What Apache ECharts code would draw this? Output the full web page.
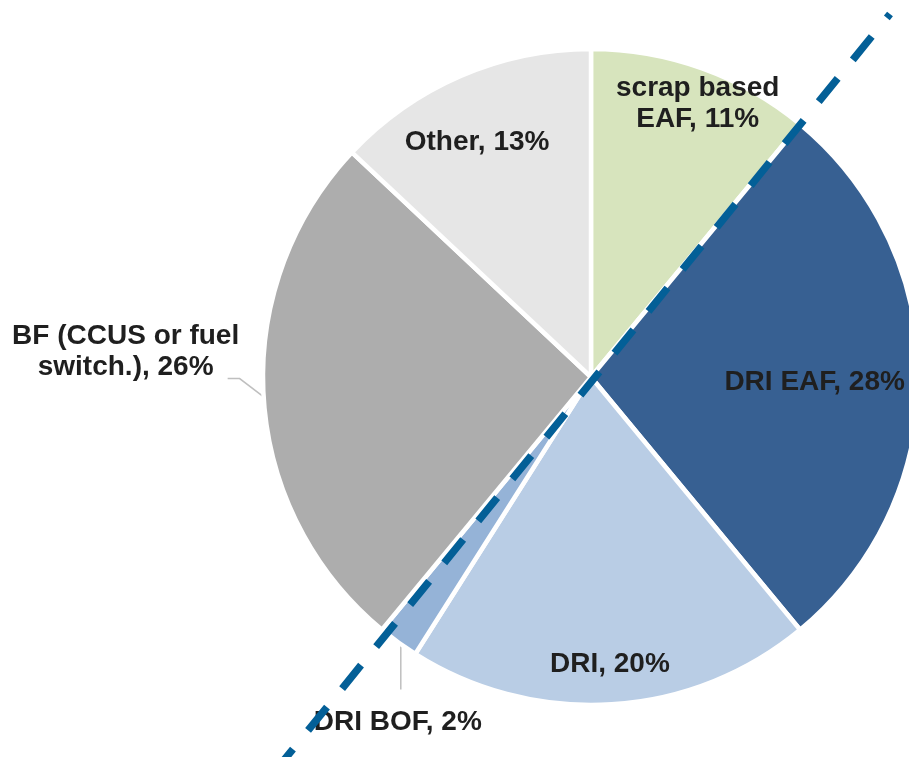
<!DOCTYPE html>
<html><head><meta charset="utf-8">
<script src="https://cdn.jsdelivr.net/npm/echarts/dist/echarts.min.js"></script>
<style>html,body{margin:0;padding:0;background:#fff}#c{width:909px;height:757px}</style>
</head><body><div id="c"></div>
<script>
// ---- data ----
const categories = ['scrap based\nEAF', 'DRI EAF', 'DRI', 'DRI BOF', 'BF (CCUS or fuel\nswitch.)', 'Other'];
const shares = [11, 28, 20, 2, 26, 13];

// ---- styles ----
const colors = ['#d7e4bd', '#376092', '#b9cde5', '#95b3d7', '#adadad', '#e6e6e6'];
const labelRadius = [0.9, 0.69, 0.87, null, null, 0.8];
const labelNudge = [[7, 4], [-2, 5], [1, 3], [0, 0], [0, 0], [-10, 5]];
const outsideLeader = {
  3: { line: [[2, 3], [2, 25], [2, 48]], label: [-1, 81] },
  4: { line: [[0, 0], [-25, -19], [-37, -19]], label: [-139, -46] }
};
const CX = 591, CY = 377, R = 328, EDGE = 327;

const total = shares.reduce((a, b) => a + b, 0);
function midAngle(i) {
  let s = 0;
  for (let j = 0; j < i; j++) s += shares[j];
  return (s + shares[i] / 2) / total * Math.PI * 2;
}

const chart = echarts.init(document.getElementById('c'), null, { renderer: 'canvas' });
chart.setOption({
  animation: false,
  backgroundColor: '#ffffff',
  series: [{
    type: 'pie',
    center: [CX, CY],
    radius: R,
    startAngle: 90,
    clockwise: true,
    avoidLabelOverlap: false,
    itemStyle: { borderColor: '#ffffff', borderWidth: 4.5 },
    label: {
      show: true,
      position: 'inside',
      fontFamily: 'Liberation Sans, Arial, sans-serif',
      fontSize: 28,
      fontWeight: 'bold',
      lineHeight: 31,
      color: '#1f1f1f',
      textBorderWidth: 0,
      formatter: p => p.name + ', ' + p.value + '%'
    },
    labelLine: { show: false },
    labelLayout: function (p) {
      const i = p.dataIndex;
      const a = midAngle(i);
      const dx = Math.sin(a), dy = -Math.cos(a);
      if (outsideLeader[i]) {
        const ex = CX + EDGE * dx, ey = CY + EDGE * dy;
        const o = outsideLeader[i];
        return {
          x: ex + o.label[0], y: ey + o.label[1],
          align: 'center', verticalAlign: 'middle',
          labelLinePoints: o.line.map(q => [ex + q[0], ey + q[1]])
        };
      }
      const k = labelRadius[i];
      return {
        x: CX + k * EDGE * dx + labelNudge[i][0],
        y: CY + k * EDGE * dy + labelNudge[i][1],
        align: 'center', verticalAlign: 'middle'
      };
    },
    data: categories.map((name, i) => {
      const item = { name: name, value: shares[i], itemStyle: { color: colors[i] } };
      if (outsideLeader[i]) {
        item.label = { position: 'outside' };
        item.labelLine = { show: true, lineStyle: { color: '#bfbfbf', width: 1.5 } };
      }
      return item;
    })
  }],
  graphic: [{
    type: 'line',
    z: 100,
    silent: true,
    shape: { x1: 890, y1: 14, x2: 280, y2: 765 },
    style: { stroke: '#035f97', lineWidth: 7.5, lineDash: [30, 24], lineDashOffset: 25, lineCap: 'butt' }
  }]
});
</script>
</body></html>
